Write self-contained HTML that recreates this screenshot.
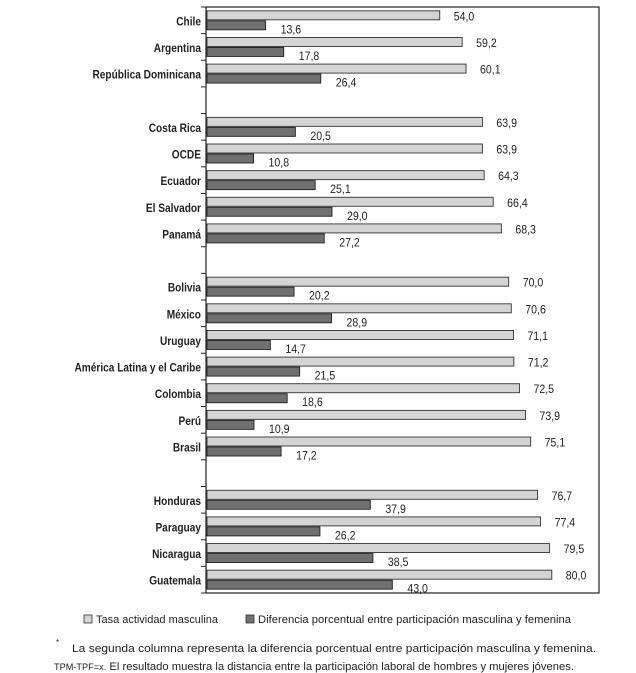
<!DOCTYPE html>
<html><head><meta charset="utf-8"><style>
html,body{margin:0;padding:0;background:#fff;}
svg{display:block;font-family:"Liberation Sans",sans-serif;}
</style></head><body>
<svg id="s" width="636" height="673" viewBox="0 0 636 673" xmlns="http://www.w3.org/2000/svg">
<rect x="206" y="7" width="393" height="586" fill="#fff" stroke="#222" stroke-width="1.2"/>
<g font-size="11" fill="#222">
<rect x="84" y="615" width="8" height="8" fill="#d4d4d4" stroke="#333" stroke-width="0.8"/>
<text x="96" y="623" textLength="122" lengthAdjust="spacingAndGlyphs">Tasa actividad masculina</text>
<rect x="246" y="615" width="8" height="8" fill="#707070" stroke="#333" stroke-width="0.8"/>
<text x="258" y="623" textLength="313" lengthAdjust="spacingAndGlyphs">Diferencia porcentual entre participación masculina y femenina</text>
<text x="56" y="645" font-size="8">*</text>
<text x="72" y="652" textLength="524" lengthAdjust="spacingAndGlyphs">La segunda columna representa la diferencia porcentual entre participación masculina y femenina.</text>
<text x="54" y="670" textLength="520" lengthAdjust="spacingAndGlyphs"><tspan font-size="9">TPM-TPF=x.</tspan> El resultado muestra la distancia entre la participación laboral de hombres y mujeres jóvenes.</text>
</g>
<g id="g"></g>
</svg>
<script>
var d=[[0,"Chile",54.0,13.6],[1,"Argentina",59.2,17.8],[2,"República Dominicana",60.1,26.4],
[4,"Costa Rica",63.9,20.5],[5,"OCDE",63.9,10.8],[6,"Ecuador",64.3,25.1],[7,"El Salvador",66.4,29.0],[8,"Panamá",68.3,27.2],
[10,"Bolivia",70.0,20.2],[11,"México",70.6,28.9],[12,"Uruguay",71.1,14.7],[13,"América Latina y el Caribe",71.2,21.5],[14,"Colombia",72.5,18.6],[15,"Perú",73.9,10.9],[16,"Brasil",75.1,17.2],
[18,"Honduras",76.7,37.9],[19,"Paraguay",77.4,26.2],[20,"Nicaragua",79.5,38.5],[21,"Guatemala",80.0,43.0]];
var h="",H=586/22,x0=207,k=4.31,s=0.88;
for(var i=0;i<=22;i++){var y=7+i*H;h+='<line x1="201" x2="206" y1="'+y+'" y2="'+y+'" stroke="#222" stroke-width="1"/>';}
function f(v){return v.toFixed(1).replace(".",",");}
d.forEach(function(r){var c=7+(r[0]+0.5)*H,a=x0+r[2]*k,b=x0+r[3]*k;
h+='<rect x="'+x0+'" y="'+(c-9.5)+'" width="'+(a-x0)+'" height="9" fill="#d4d4d4" stroke="#333" stroke-width="0.9"/>';
h+='<rect x="'+x0+'" y="'+(c+0.5)+'" width="'+(b-x0)+'" height="9" fill="#707070" stroke="#222" stroke-width="0.9"/>';
h+='<g transform="scale('+s+',1)">';
h+='<text x="'+((a+14)/s)+'" y="'+(c)+'" font-size="12" fill="#222">'+f(r[2])+'</text>';
h+='<text x="'+((b+15)/s)+'" y="'+(c+13)+'" font-size="12" fill="#222">'+f(r[3])+'</text>';
h+='<text x="'+(201/s)+'" y="'+(c+5)+'" text-anchor="end" font-size="11.5" font-weight="bold" fill="#222">'+r[1]+'</text></g>';});
document.getElementById("g").innerHTML=h;
</script>
</body></html>
